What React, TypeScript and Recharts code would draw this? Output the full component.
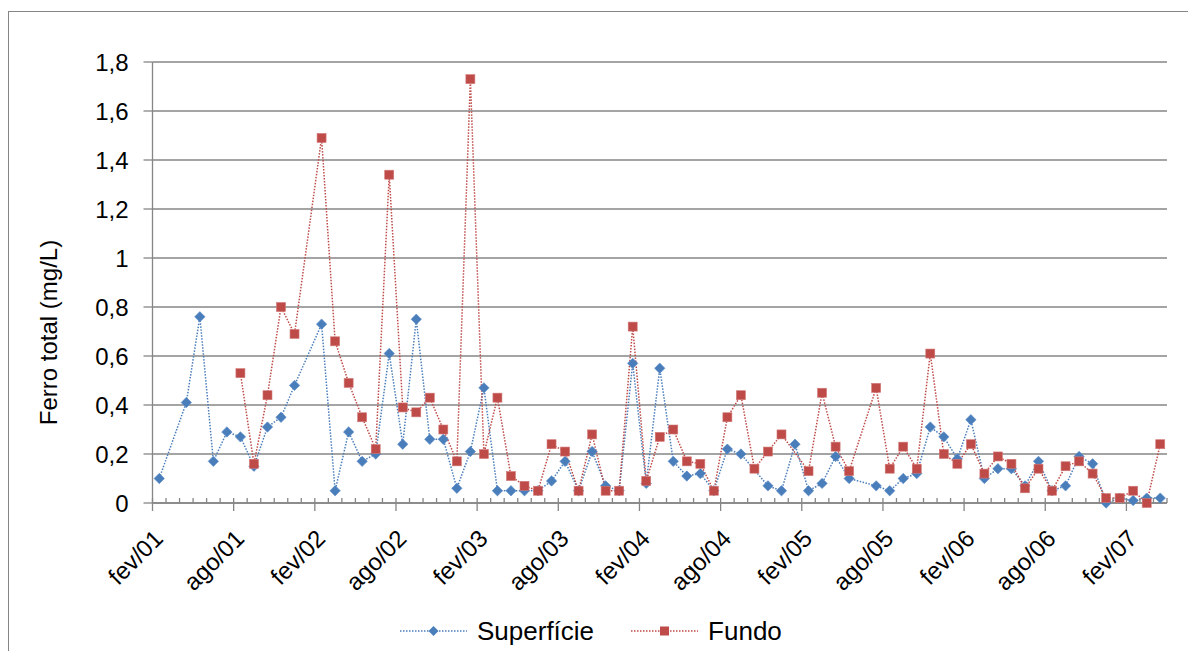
import { CartesianGrid, Label, Legend, Line, LineChart, XAxis, YAxis } from "recharts";

// one slot per month, fev/01 .. abr/07 (null = no sample that month)
const superficie = [
  0.1, null, 0.41, 0.76, 0.17, 0.29, 0.27, 0.15, 0.31, 0.35, 0.48, null,
  0.73, 0.05, 0.29, 0.17, 0.2, 0.61, 0.24, 0.75, 0.26, 0.26, 0.06, 0.21,
  0.47, 0.05, 0.05, 0.05, 0.05, 0.09, 0.17, 0.05, 0.21, 0.07, 0.05, 0.57,
  0.08, 0.55, 0.17, 0.11, 0.12, 0.05, 0.22, 0.2, null, 0.07, 0.05, 0.24,
  0.05, 0.08, 0.19, 0.1, null, 0.07, 0.05, 0.1, 0.12, 0.31, 0.27, 0.18,
  0.34, 0.1, 0.14, 0.14, 0.07, 0.17, 0.05, 0.07, 0.19, 0.16, 0.0, 0.02,
  0.01, 0.02, 0.02
];

const fundo = [
  null, null, null, null, null, null, 0.53, 0.16, 0.44, 0.8, 0.69, null,
  1.49, 0.66, 0.49, 0.35, 0.22, 1.34, 0.39, 0.37, 0.43, 0.3, 0.17, 1.73,
  0.2, 0.43, 0.11, 0.07, 0.05, 0.24, 0.21, 0.05, 0.28, 0.05, 0.05, 0.72,
  0.09, 0.27, 0.3, 0.17, 0.16, 0.05, 0.35, 0.44, 0.14, 0.21, 0.28, null,
  0.13, 0.45, 0.23, 0.13, null, 0.47, 0.14, 0.23, 0.14, 0.61, 0.2, 0.16,
  0.24, 0.12, 0.19, 0.16, 0.06, 0.14, 0.05, 0.15, 0.17, 0.12, 0.02, 0.02,
  0.05, 0.0, 0.24
];

// labels on every 6th month boundary
const tickLabels = [
  "fev/01", "ago/01", "fev/02", "ago/02", "fev/03", "ago/03", "fev/04",
  "ago/04", "fev/05", "ago/05", "fev/06", "ago/06", "fev/07"
];

const yTicks = [0, 0.2, 0.4, 0.6, 0.8, 1, 1.2, 1.4, 1.6, 1.8];

const seriesOrder = ["superficie", "fundo"];

const BLUE = "#4a7ebb";
const RED = "#be4b48";
const GRAY = "#868686";
const FONT = "'Liberation Sans', Arial, sans-serif";

// points sit in the middle of each month slot
const data = superficie.map((s, i) => ({ month: i + 0.5, superficie: s, fundo: fundo[i] }));
const monthTicks = Array.from({ length: superficie.length + 1 }, (_, i) => i);

function formatY(v: number) {
  return String(Number(v.toFixed(1))).replace(".", ",");
}

function diamondPath(cx: number, cy: number, r: number) {
  return `M${cx} ${cy - r}L${cx + r} ${cy}L${cx} ${cy + r}L${cx - r} ${cy}Z`;
}

function DiamondDot(props: any) {
  const { cx, cy, index } = props;
  if (cx == null || cy == null || props.value == null) return <g key={`d${index}`} />;
  return <path key={`d${index}`} d={diamondPath(cx, cy, 5.2)} fill={BLUE} stroke="#5b8cc8" strokeWidth={0.6} />;
}

function SquareDot(props: any) {
  const { cx, cy, index } = props;
  if (cx == null || cy == null || props.value == null) return <g key={`s${index}`} />;
  return <rect key={`s${index}`} x={cx - 4.5} y={cy - 4.5} width={9} height={9} fill={RED} stroke="#d27a78" strokeWidth={0.6} />;
}

function MonthTick({ x, y, payload }: any) {
  const i = payload.value as number;
  const major = i % 6 === 0;
  const label = major ? tickLabels[i / 6] : undefined;
  const tx = x + 12;
  const ty = y + 37;
  return (
    <g>
      <line x1={x} x2={x} y1={y - 5} y2={major ? y + 8 : y} stroke={GRAY} strokeWidth={1.3} />
      {label && (
        <text
          x={tx}
          y={ty}
          textAnchor="end"
          transform={`rotate(-45 ${tx} ${ty})`}
          fontFamily={FONT}
          fontSize={24}
          fill="#000"
        >
          {label}
        </text>
      )}
    </g>
  );
}

function AxisTitle({ viewBox }: any) {
  const x = viewBox.x + 48;
  const y = viewBox.y + viewBox.height / 2 + 50;
  return (
    <text x={x} y={y} textAnchor="middle" transform={`rotate(-90 ${x} ${y})`} fontFamily={FONT} fontSize={24} fill="#000">
      Ferro total (mg/L)
    </text>
  );
}

function LegendContent({ payload }: any) {
  const items = [...(payload ?? [])].sort(
    (a: any, b: any) => seriesOrder.indexOf(a.dataKey) - seriesOrder.indexOf(b.dataKey)
  );
  return (
    <div style={{ display: "flex", alignItems: "center", height: 30, paddingLeft: 391, fontFamily: FONT, fontSize: 26 }}>
      {items.map((entry: any, k: number) => {
        const isBlue = entry.dataKey === "superficie";
        const color = isBlue ? BLUE : RED;
        return (
          <div key={entry.value} style={{ display: "flex", alignItems: "center", marginLeft: k === 0 ? 0 : 37 }}>
            <svg width={67} height={14}>
              <line x1={0} x2={67} y1={7} y2={7} stroke={color} strokeWidth={1.5} strokeDasharray="1.5 1.5" />
              {isBlue ? (
                <path d={diamondPath(33.5, 7, 5)} fill={BLUE} />
              ) : (
                <rect x={29} y={2.5} width={9} height={9} fill={RED} />
              )}
            </svg>
            <span style={{ marginLeft: 10 }}>{entry.value}</span>
          </div>
        );
      })}
    </div>
  );
}

export default function App() {
  return (
    <div
      style={{
        position: "relative",
        top: 3,
        width: 1187,
        height: 643,
        boxSizing: "border-box",
        borderTop: `1px solid ${GRAY}`,
        borderLeft: `1px solid ${GRAY}`,
        background: "#fff"
      }}
    >
      <LineChart width={1186} height={642} data={data} margin={{ top: 50, right: 28, bottom: 91, left: 0 }}>
        <CartesianGrid horizontal vertical={false} stroke={GRAY} strokeWidth={1.3} />
        <XAxis
          dataKey="month"
          type="number"
          domain={[0, superficie.length]}
          ticks={monthTicks}
          interval={0}
          height={60}
          tickSize={0}
          tickMargin={0}
          tickLine={false}
          axisLine={{ stroke: GRAY, strokeWidth: 1.3 }}
          tick={<MonthTick />}
        />
        <YAxis
          domain={[0, 1.8]}
          ticks={yTicks}
          interval={0}
          width={143.5}
          tickSize={9}
          tickMargin={15}
          tickFormatter={formatY}
          tickLine={{ stroke: GRAY, strokeWidth: 1.3 }}
          axisLine={{ stroke: GRAY, strokeWidth: 1.3 }}
          tick={{ fill: "#000", fontSize: 24, fontFamily: FONT }}
        >
          <Label content={<AxisTitle />} />
        </YAxis>
        <Legend
          layout="horizontal"
          verticalAlign="middle"
          align="center"
          itemSorter={null}
          wrapperStyle={{ top: 604, left: 0, width: 1186, height: 30 }}
          content={<LegendContent />}
        />
        <Line
          dataKey="superficie"
          name="Superfície"
          stroke={BLUE}
          strokeWidth={1.5}
          strokeDasharray="1.5 1.5"
          connectNulls
          dot={DiamondDot}
          activeDot={false}
          isAnimationActive={false}
        />
        <Line
          dataKey="fundo"
          name="Fundo"
          stroke={RED}
          strokeWidth={1.5}
          strokeDasharray="1.5 1.5"
          connectNulls
          dot={SquareDot}
          activeDot={false}
          isAnimationActive={false}
        />
      </LineChart>
    </div>
  );
}
